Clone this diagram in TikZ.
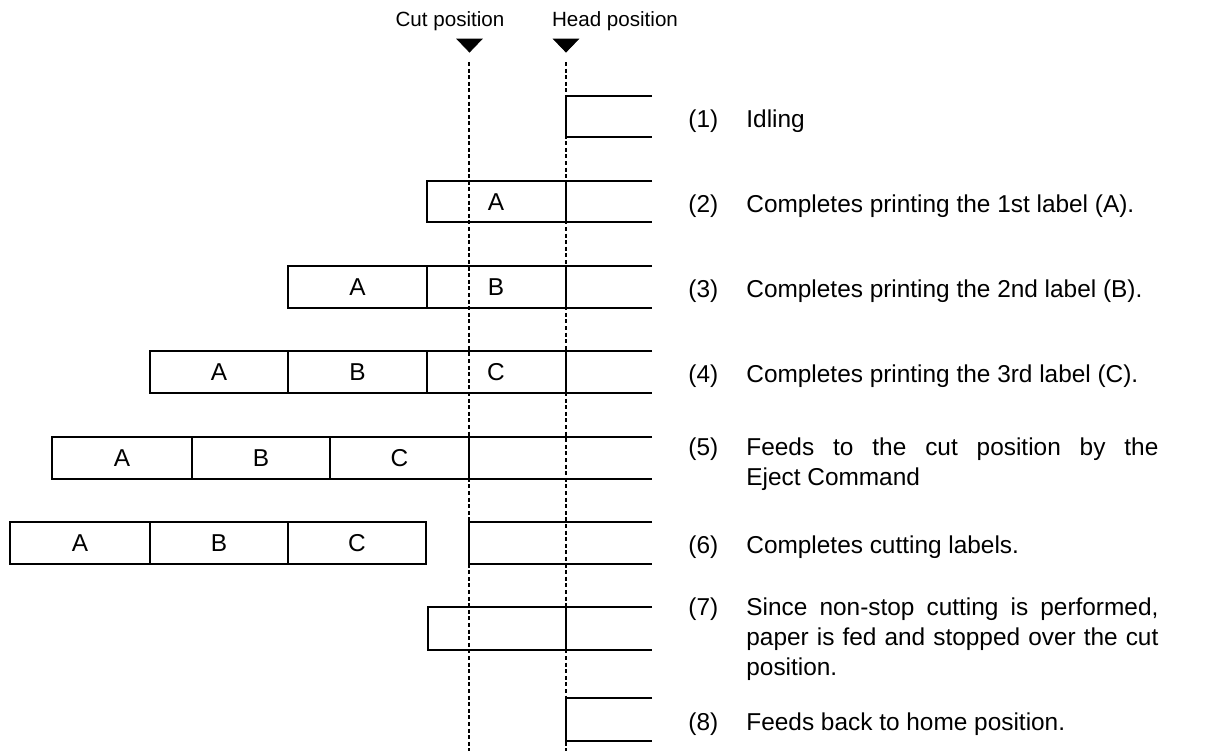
\documentclass[tikz,border=0pt]{standalone}
\usepackage{fontspec}
\setmainfont{Liberation Sans}

\begin{document}
\begin{tikzpicture}[
  x=0.5pt, y=-0.5pt,
  paper/.style={line width=0.9pt},
  guide/.style={line width=0.8pt, dash pattern=on 2pt off 1.3pt},
  pointer/.style={fill=black},
  lbl/.style={inner sep=0, font=\fontsize{12.2}{14}\selectfont},
  place/.style={inner sep=0, anchor=base, font=\fontsize{10.3}{12}\selectfont},
  num/.style={inner sep=0, anchor=base west, font=\fontsize{12.2}{15}\selectfont},
  desc/.style={inner sep=0, anchor=base west, text width=206pt, align=justify, font=\fontsize{12.2}{15}\selectfont}
]
\useasboundingbox (0,0) rectangle (1205,751);

% positions
\node[place] (cutname) at (450,26) {Cut position};
\node[place] (headname) at (615,26) {Head position};
\draw[pointer] (457,39) -- (482,39) -- (469.5,52) -- cycle;
\draw[pointer] (553.5,39) -- (578.5,39) -- (566,52) -- cycle;
\draw[guide] (469,62) -- (469,751);
\draw[guide] (566,62) -- (566,751);

% (1)
\draw[paper] (652,96) -- (566,96) -- (566,137) -- (652,137);

% (2)
\draw[paper] (652,181) -- (427,181) -- (427,222) -- (652,222);
\draw[paper] (566,181) -- (566,222);
\node[lbl] (a2) at (496,202) {A};

% (3)
\draw[paper] (652,266) -- (288,266) -- (288,308) -- (652,308);
\draw[paper] (427,266) -- (427,308); \draw[paper] (566,266) -- (566,308);
\node[lbl] (a3) at (357.5,287.5) {A};
\node[lbl] (b3) at (496,287.5) {B};

% (4)
\draw[paper] (652,351) -- (150,351) -- (150,393) -- (652,393);
\draw[paper] (288,351) -- (288,393); \draw[paper] (427,351) -- (427,393); \draw[paper] (566,351) -- (566,393);
\node[lbl] (a4) at (219,372.5) {A};
\node[lbl] (b4) at (357.5,372.5) {B};
\node[lbl] (c4) at (496,372.5) {C};

% (5)
\draw[paper] (652,437) -- (52,437) -- (52,479) -- (652,479);
\draw[paper] (192,437) -- (192,479); \draw[paper] (330,437) -- (330,479); \draw[paper] (469,437) -- (469,479);
\node[lbl] (a5) at (122,458.5) {A};
\node[lbl] (b5) at (261,458.5) {B};
\node[lbl] (c5) at (399.5,458.5) {C};

% (6)
\draw[paper] (10,522) rectangle (426,564);
\draw[paper] (150,522) -- (150,564); \draw[paper] (288,522) -- (288,564);
\draw[paper] (652,522) -- (469,522) -- (469,564) -- (652,564);
\node[lbl] (a6) at (80,543.5) {A};
\node[lbl] (b6) at (219,543.5) {B};
\node[lbl] (c6) at (357,543.5) {C};

% (7)
\draw[paper] (652,607) -- (428,607) -- (428,650) -- (652,650);
\draw[paper] (566,607) -- (566,650);

% (8)
\draw[paper] (652,698) -- (566,698) -- (566,741) -- (652,741);

% steps
\node[num] (s1) at (688,127) {(1)};
\node[desc] (t1) at (746,127) {Idling};
\node[num] (s2) at (688,212) {(2)};
\node[desc] (t2) at (746,212) {Completes printing the 1st label (A).};
\node[num] (s3) at (688,297.5) {(3)};
\node[desc] (t3) at (746,297.5) {Completes printing the 2nd label (B).};
\node[num] (s4) at (688,382.5) {(4)};
\node[desc] (t4) at (746,382.5) {Completes printing the 3rd label (C).};
\node[num] (s5) at (688,455) {(5)};
\node[desc] (t5) at (746,455) {Feeds to the cut position by the\linebreak Eject Command};
\node[num] (s6) at (688,553.5) {(6)};
\node[desc] (t6) at (746,553.5) {Completes cutting labels.};
\node[num] (s7) at (688,615) {(7)};
\node[desc] (t7) at (746,615) {Since non-stop cutting is performed,\linebreak paper is fed and stopped over the cut\linebreak position.};
\node[num] (s8) at (688,730) {(8)};
\node[desc] (t8) at (746,730) {Feeds back to home position.};
\end{tikzpicture}
\end{document}
